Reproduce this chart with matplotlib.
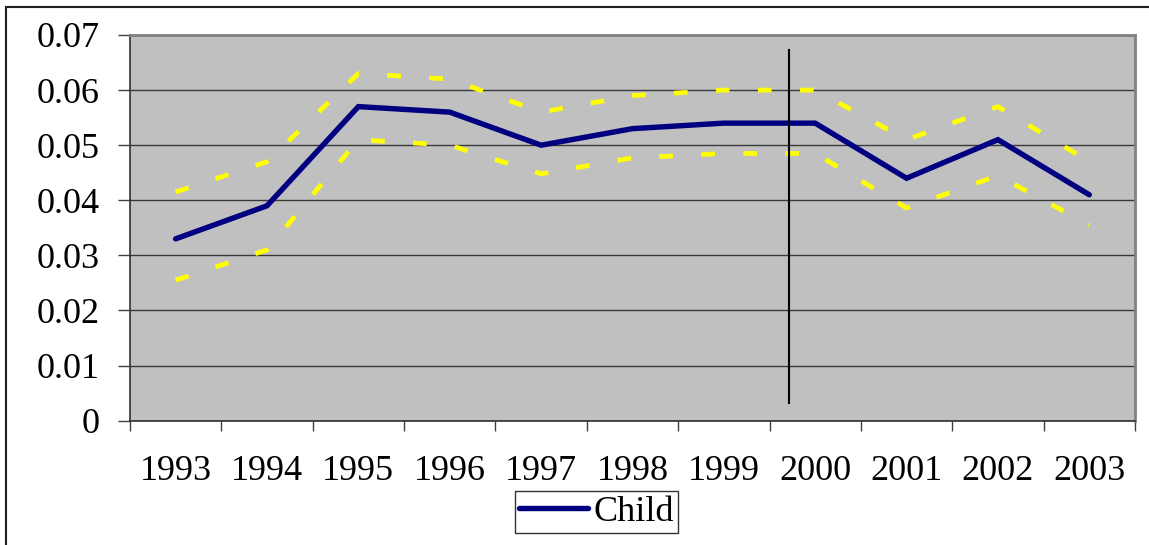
import matplotlib
matplotlib.use("Agg")
import matplotlib.pyplot as plt
from matplotlib.patches import Rectangle
from matplotlib.lines import Line2D

years = ["1993", "1994", "1995", "1996", "1997", "1998", "1999", "2000", "2001", "2002", "2003"]
child = [0.033, 0.039, 0.057, 0.056, 0.050, 0.053, 0.054, 0.054, 0.044, 0.051, 0.041]
upper = [0.0415, 0.047, 0.063, 0.062, 0.056, 0.059, 0.060, 0.060, 0.051, 0.057, 0.047]
lower = [0.0255, 0.031, 0.051, 0.050, 0.0448, 0.0477, 0.0485, 0.0485, 0.0386, 0.0445, 0.0355]
yticks = [0, 0.01, 0.02, 0.03, 0.04, 0.05, 0.06, 0.07]
ytick_labels = ["0", "0.01", "0.02", "0.03", "0.04", "0.05", "0.06", "0.07"]
break_x = 6.71
break_y = [0.0033, 0.0672]

plt.rcParams['font.family'] = ['Liberation Serif', 'DejaVu Serif']

fig = plt.figure(figsize=(11.49, 5.45), dpi=100)
ax = fig.add_axes([0.1131, 0.2281, 0.9878 - 0.1131, 0.9358 - 0.2281])
ax.set_facecolor("#C0C0C0")

x = list(range(len(years)))
ax.plot(x, upper, color="#FFFF00", lw=3.4, dashes=(2.9, 6.0), dash_capstyle="butt", zorder=3)
ax.plot(x, lower, color="#FFFF00", lw=3.4, dashes=(2.9, 6.0), dash_capstyle="butt", zorder=3)
ax.plot(x, child, color="#000080", lw=3.9, solid_capstyle="round", solid_joinstyle="miter", zorder=4)
ax.plot([break_x, break_x], break_y, color="black", lw=1.5, zorder=5)

ax.set_xlim(-0.5, len(years) - 0.5)
ax.set_ylim(0, 0.07)
ax.set_yticks(yticks)
ax.set_yticklabels(ytick_labels, fontsize=26)
ax.yaxis.grid(True, color="#3a3a3a", lw=1.0)
ax.set_axisbelow(True)
ax.tick_params(axis="y", direction="out", length=8.6, width=1, color="#404040", pad=13)

ax.set_xticks(x)
ax.set_xticklabels(years, fontsize=26)
ax.set_xticks([i - 0.5 for i in range(len(years) + 1)], minor=True)
ax.tick_params(axis="x", which="major", length=0, pad=25)
ax.tick_params(axis="x", which="minor", direction="out", length=7.5, width=1, color="#404040")

for side in ["top", "right"]:
    ax.spines[side].set_color("#808080")
    ax.spines[side].set_linewidth(2)
for side in ["left", "bottom"]:
    ax.spines[side].set_color("#303030")
    ax.spines[side].set_linewidth(1.2)

handle = Line2D([], [], color="#000080", lw=3.9, solid_capstyle="round")
leg = fig.legend([handle], ["Child"], loc="center", bbox_to_anchor=(0.519, 0.0605),
                 fontsize=26, frameon=True, fancybox=False, edgecolor="black",
                 handlelength=1.9, handletextpad=0.15, borderpad=0.12, borderaxespad=0)
leg.get_frame().set_linewidth(1.0)

fig.patches.append(Rectangle((0.0052, -0.1), 1.2, 0.988 + 0.1, transform=fig.transFigure,
                             fill=False, edgecolor="#202020", lw=1.5))

fig.savefig("out.png", dpi=100)
